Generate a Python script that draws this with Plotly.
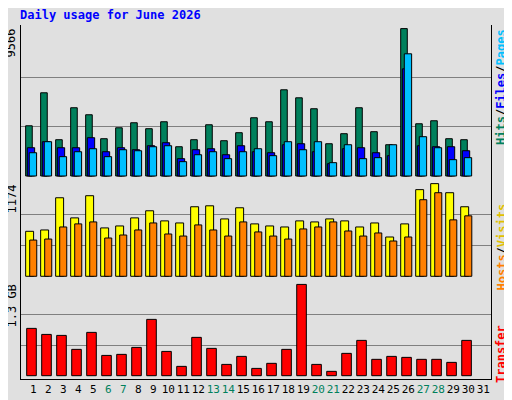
import plotly.graph_objects as go

# ~~~ DATA ~~~
days = list(range(1, 32))
weekend = [6, 7, 13, 14, 20, 21, 27, 28]
hits = [3260, 5400, 2355, 4430, 3975, 2420, 3130, 3455, 3070, 3520, 1900, 2355, 3325, 2290, 2810,
        3780, 3520, 5595, 5075, 4365, 2095, 2745, 4430, 2875, 2030, 9566, 3390, 3585, 2420, 2355]
files = [1835, 2225, 1835, 1835, 2485, 1575, 1835, 1705, 1965, 2160, 1125, 1705, 1770, 1380, 1965,
         1575, 1510, 2030, 2095, 1575, 800, 1770, 1835, 1510, 1320, 6955, 1965, 1900, 1900, 1640]
pages = [1510, 2225, 1255, 1575, 1770, 1255, 1705, 1640, 1900, 1965, 930, 1380, 1575, 1125, 1575,
         1770, 1320, 2225, 1705, 2225, 865, 2030, 1125, 1190, 2030, 7930, 2550, 1835, 1060, 1190]
visits = [570, 587, 995, 740, 1021, 613, 638, 740, 830, 702, 676, 881, 893, 727, 868,
          664, 638, 625, 702, 689, 727, 702, 625, 676, 498, 664, 1098, 1174, 1059, 881]
hosts = [459, 472, 625, 664, 689, 485, 523, 587, 676, 536, 510, 651, 587, 510, 689,
         562, 510, 472, 600, 625, 689, 574, 510, 549, 447, 498, 970, 1059, 715, 766]
transfer_gb = [0.674, 0.588, 0.574, 0.375, 0.617, 0.289, 0.304, 0.403, 0.802, 0.346, 0.133, 0.546,
               0.389, 0.161, 0.275, 0.104, 0.176, 0.375, 1.3, 0.161, 0.062, 0.318, 0.503, 0.233,
               0.275, 0.261, 0.233, 0.233, 0.190, 0.503]

BG = "#e0e0e0"
FONT = "DejaVu Sans Mono"
W, H, PAD = 504, 392, 8   # page body has an 8px margin
x = days[:30]

def px(v):
    return (v - PAD) / W

def py(v):
    return 1 - (v - PAD) / H

fig = go.Figure()

def bars(y, color, offset, width, yaxis):
    fig.add_trace(go.Bar(x=x, y=y, marker=dict(color=color, line=dict(color="black", width=1)),
                         offset=offset, width=width, xaxis="x", yaxis=yaxis, hoverinfo="skip"))

# top panel
bars(hits, "#00805c", -0.51, 0.44, "y")
bars(files, "#0000ff", -0.40, 0.49, "y")
bars(pages, "#00c0ff", -0.27, 0.49, "y")
# middle panel
bars(visits, "#ffff00", -0.51, 0.53, "y2")
bars(hosts, "#ff8000", -0.24, 0.47, "y2")
# bottom panel
bars(transfer_gb, "#ff0000", -0.44, 0.64, "y3")

ticktext = [f'<span style="color:#00805c">{d}</span>' if d in weekend else str(d) for d in days]

common_y = dict(showticklabels=False, ticks="", showline=True, linecolor="black", mirror=True,
                gridcolor="#808080", gridwidth=1, zeroline=False, fixedrange=True)

fig.update_layout(
    width=W, height=H, margin=dict(l=0, r=0, t=0, b=0),
    paper_bgcolor=BG, plot_bgcolor=BG, showlegend=False, barmode="overlay",
    font=dict(family=FONT, size=12, color="black"),
    xaxis=dict(domain=[px(20.7), px(490.7)], range=[0.16, 31.49], tickvals=days, ticktext=ticktext,
               tickangle=0, ticks="", showgrid=False, showline=True, linecolor="black",
               mirror=False, anchor="y3", tickfont=dict(size=11)),
    yaxis=dict(domain=[py(180), py(25)], range=[-260, 9800], tickvals=[3189, 6377], **common_y),
    yaxis2=dict(domain=[py(280), py(180)], range=[-47, 1220], tickvals=[391, 783], **common_y),
    yaxis3=dict(domain=[py(379), py(280)], range=[-0.047, 1.363], tickvals=[0.433, 0.867], **common_y),
    title=dict(text="<b>Daily usage for June 2026</b>", x=px(20), y=py(15),
               xanchor="left", yanchor="middle", font=dict(color="#0000ff", size=12, family=FONT)),
)

anns = [("9566", 27), ("1174", 183), ("1.3 GB", 283)]
for text, top in anns:
    fig.add_annotation(text=text, xref="paper", yref="paper", x=px(11), y=py(top),
                       xanchor="center", yanchor="top", textangle=-90, showarrow=False,
                       font=dict(size=12, family=FONT))

right = [
    ('<span style="color:#00805c">Hits</span>/<span style="color:#0000ff">Files</span>/'
     '<span style="color:#00c0ff">Pages</span>', 27),
    ('<span style="color:#ff8000">Hosts</span>/<span style="color:#e0c000">Visits</span>', 202),
    ('<span style="color:#ff0000">Transfer</span>', 323),
]
for text, top in right:
    fig.add_annotation(text="<b>" + text + "</b>", xref="paper", yref="paper", x=px(501),
                       y=py(top), xanchor="center", yanchor="top", textangle=-90,
                       showarrow=False, font=dict(size=12, family=FONT))

fig.write_html("out.html")
